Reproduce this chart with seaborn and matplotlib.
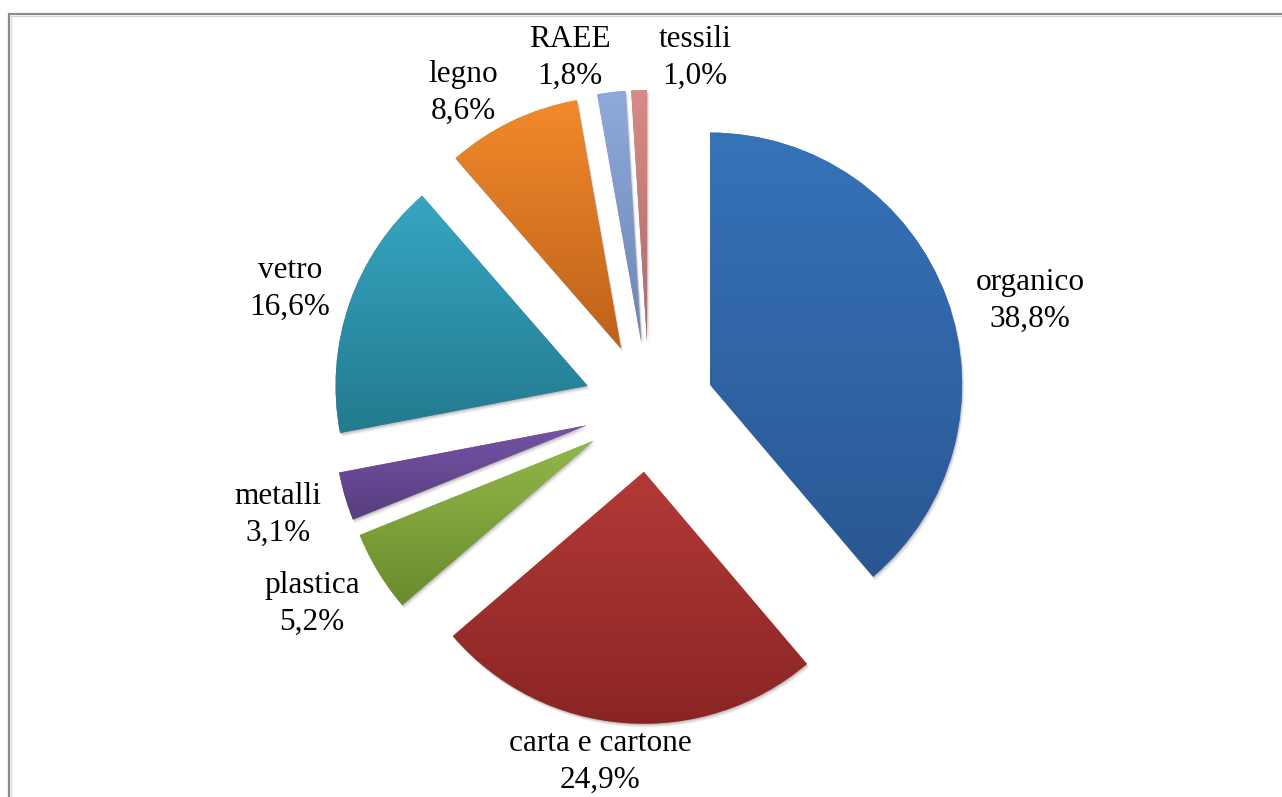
import numpy as np
import matplotlib
matplotlib.use("Agg")
import matplotlib.pyplot as plt
import matplotlib.colors as mcolors
from matplotlib.patches import Rectangle, Wedge
import seaborn as sns

# waste composition (share of separate collection, %)
categories = ["organico", "carta e cartone", "plastica", "metalli",
              "vetro", "legno", "RAEE", "tessili"]
shares = [38.8, 24.9, 5.2, 3.1, 16.6, 8.6, 1.8, 1.0]

# gradient colours, lighter at top, darker at bottom (Excel style)
top_colors = ["#3673B9", "#B23A36", "#93B748", "#7454A6", "#37A6C2",
              "#F28A2C", "#8CAADB", "#DA8A88"]
bottom_colors = ["#2A5793", "#8A2424", "#6A8B2E", "#583D80", "#227A8E",
                 "#BE611A", "#6C88B4", "#B26A68"]

# label centres (pixels from top-left)
label_pos = [(1030, 301), (600, 762), (312, 604), (278, 515),
             (290, 289), (463, 93), (570, 58), (695, 58)]

W, H = 1282, 797
sns.set_theme(style="white")
plt.rcParams["font.family"] = ["Liberation Serif", "DejaVu Serif"]

fig = plt.figure(figsize=(W / 100, H / 100), dpi=100)
ax = fig.add_axes([0, 0, 1, 1])

center = (649, H - 407)
R = 252
wedges, _ = ax.pie(shares, radius=R, center=center, startangle=90,
                   counterclock=False, explode=[65] * len(shares),
                   wedgeprops=dict(linewidth=0, zorder=3))

for w, c_top, c_bot in zip(wedges, top_colors, bottom_colors):
    # soft shadow below the slice
    for k, a in zip([1, 2, 3, 4], [0.10, 0.08, 0.06, 0.04]):
        sh = Wedge((w.center[0] + k * 0.6, w.center[1] - k), w.r,
                   w.theta1, w.theta2, facecolor="black", alpha=a,
                   linewidth=0, zorder=1)
        ax.add_patch(sh)
    # vertical gradient clipped to the slice
    verts = w.get_patch_transform().transform(w.get_path().vertices)
    x0, y0 = verts.min(axis=0)
    x1, y1 = verts.max(axis=0)
    t = np.linspace(0, 1, 256)[:, None]
    ct = np.array(mcolors.to_rgb(c_top))
    cb = np.array(mcolors.to_rgb(c_bot))
    grad = (1 - t) * ct + t * cb
    img = ax.imshow(grad[:, None, :], extent=(x0, x1, y0, y1), origin="upper",
                    aspect="auto", zorder=4, interpolation="bilinear")
    img.set_clip_path(w)

for cat, val, (px, py) in zip(categories, shares, label_pos):
    txt = f"{cat}\n" + f"{val:.1f}%".replace(".", ",")
    ax.text(px, H - py, txt, ha="center", va="center", fontsize=22.5,
            color="black", linespacing=1.32, zorder=5)

ax.set_xlim(0, W)
ax.set_ylim(0, H)
ax.set_aspect("auto")
ax.axis("off")

# chart border (right and bottom edges fall outside the picture)
fig.add_artist(Rectangle((8.5 / W, -0.05), 1.2, (H - 13.5) / H + 0.05,
                         transform=fig.transFigure, fill=False,
                         edgecolor="#8a8a8a", linewidth=1.6))
fig.add_artist(Rectangle((10.5 / W, -0.05), 1.2, (H - 15.5) / H + 0.05,
                         transform=fig.transFigure, fill=False,
                         edgecolor="#d6d6d6", linewidth=0.8))

fig.savefig("out.png", dpi=100)
